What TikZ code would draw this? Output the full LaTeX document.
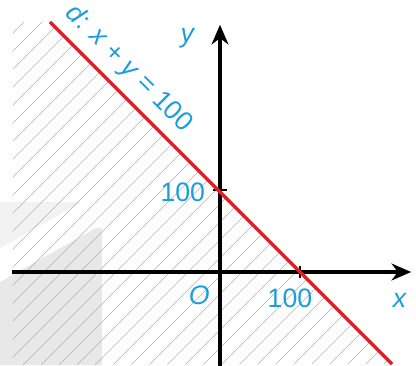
\documentclass[tikz,border=0pt]{standalone}
\usepackage{fontspec}
\setmainfont{Liberation Sans}
\usepackage{xcolor}
\usepackage{tikz}
\usetikzlibrary{
  arrows.meta,
  positioning,
  calc
}
\definecolor{labelblue}{RGB}{28,158,218}
\definecolor{linered}{RGB}{222,32,40}

\begin{document}
\begin{tikzpicture}[
        axis/.style={line width=2.2pt, black, -{Stealth[length=14pt, width=12pt]}},
        tick/.style={line width=1.6pt, black},
        hatch/.style={gray!60, line width=0.4pt},
        lab/.style={font=\fontsize{19}{21}\selectfont, labelblue, inner sep=1pt}
    ]
        \useasboundingbox (-5.5,-2.325) rectangle (4.9,6.8);
        % fond gris (filigrane)
        \fill[gray!10] (-5.5,1.75) -- (-3.45,1.75) -- (-5.5,0.6) -- cycle;
        \fill[gray!18] (-5.5,-0.25) -- (-3.1,1.1) -- (-2.95,1.1) -- (-2.95,-2.325) -- (-5.5,-2.325) -- cycle;
        % points
        \coordinate (O) at (0,0);
        \coordinate (xs) at (-5.2,0);
        \coordinate (xe) at (4.78,0);
        \coordinate (ys) at (0,-2.35);
        \coordinate (ye) at (0,6.18);
        \coordinate (A) at (2,0);
        \coordinate (B) at (0,2.05);
        \coordinate (ds) at (-4.25,6.25);
        \coordinate (de) at (4.3,-2.3);
        % demi-plan hachure
        \begin{scope}
            \clip (-5.18,6.25) -- (ds) -- (de) -- (-5.18,-2.325) -- cycle;
            \foreach \c in {-10,-9.55,...,12} {
                \draw[hatch] (-7,-7+\c) -- (7,7+\c);
            }
        \end{scope}
        % axes
        \draw[axis] (xs) -- (xe);
        \draw[axis] (ys) -- (ye);
        \draw[tick] ($(A)+(0,-0.15)$) -- ($(A)+(0,0.15)$);
        \draw[tick] ($(B)+(-0.18,0)$) -- ($(B)+(0.18,0)$);
        % droite d
        \draw[linered, line width=2.3pt] (ds) -- (de);
        % textes
        \node[lab] (ylab) at (-0.8,5.85) {\textit{y}};
        \node[lab] (xlab) at (4.5,-0.7) {\textit{x}};
        \node[lab] (olab) at (-0.52,-0.58) {\textit{O}};
        \node[lab, anchor=east] (blab) at (-0.33,2.0) {100};
        \node[lab] (alab) at (1.75,-0.65) {100};
        \node[lab, rotate=-45] (dlab) at (-2.28,5.08) {\textit{d}: \textit{x} + \textit{y} = 100};
    \end{tikzpicture}
\end{document}
